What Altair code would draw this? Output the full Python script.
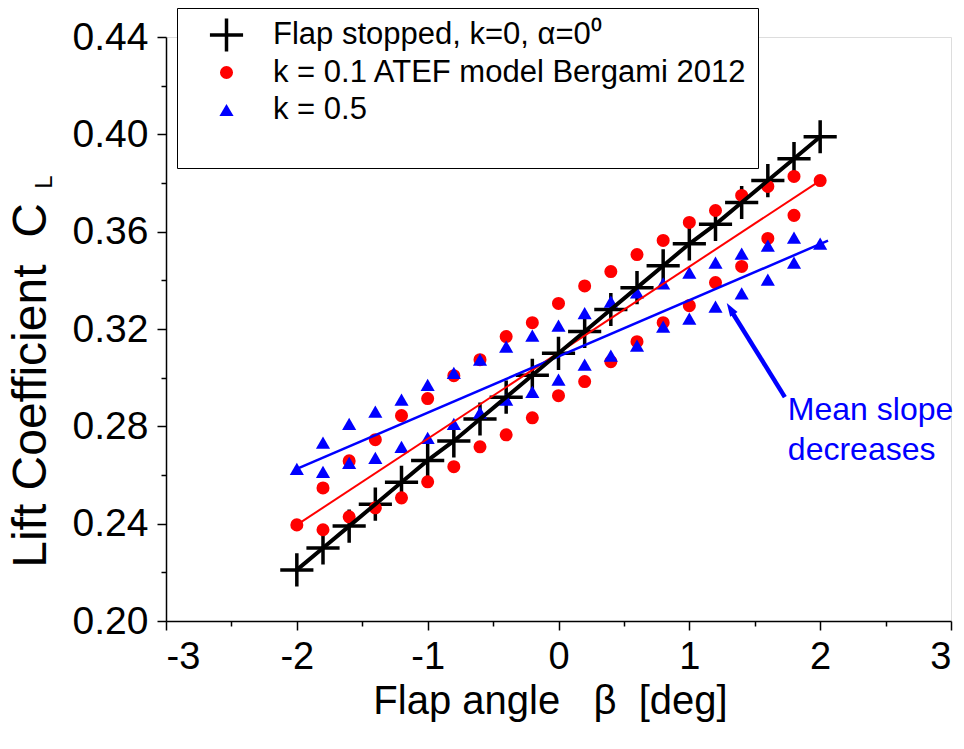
import altair as alt
import pandas as pd

# ---------------- data ----------------
beta = [-2.0, -1.8, -1.6, -1.4, -1.2, -1.0, -0.8, -0.6, -0.4, -0.2, 0.0,
        0.2, 0.4, 0.6, 0.8, 1.0, 1.2, 1.4, 1.6, 1.8, 2.0]
beta_inner = beta[1:-1]

cl_stopped = [0.221, 0.230, 0.239, 0.248, 0.257, 0.266, 0.274, 0.283, 0.292, 0.301, 0.310,
              0.319, 0.328, 0.337, 0.346, 0.355, 0.363, 0.372, 0.381, 0.390, 0.399]

cl_k01_upper = [0.2395, 0.2547, 0.2658, 0.2745, 0.2844, 0.2914, 0.3008, 0.3074, 0.3169, 0.3226, 0.3305,
                0.3377, 0.3436, 0.3506, 0.3564, 0.3638, 0.3687, 0.3749, 0.3786, 0.3827, 0.3810]
cl_k01_lower = [0.2375, 0.2428, 0.2465, 0.2506, 0.2572, 0.2634, 0.2716, 0.2765, 0.2835, 0.2926,
                0.2984, 0.3066, 0.3148, 0.3226, 0.3296, 0.3391, 0.3457, 0.3572, 0.3667]

cl_k05_upper = [0.2625, 0.2733, 0.2810, 0.2860, 0.2910, 0.2970, 0.3020, 0.3074, 0.3128, 0.3173, 0.3214,
                0.3265, 0.3313, 0.3350, 0.3387, 0.3432, 0.3473, 0.3510, 0.3543, 0.3576, 0.3551]
cl_k05_lower = [0.2613, 0.2650, 0.2670, 0.2716, 0.2753, 0.2810, 0.2856, 0.2910, 0.2942, 0.2992,
                0.3054, 0.3091, 0.3132, 0.3210, 0.3243, 0.3292, 0.3346, 0.3403, 0.3473]

# mean-slope lines (end points)
fit_k01_x = [-2.0, 2.0]
fit_k01_y = [0.2395, 0.3810]
fit_k05_x = [-2.0, 2.06]
fit_k05_y = [0.2625, 0.3563]

# annotation arrow (tail -> tip) and text
arrow_x = [1.73, 1.326]
arrow_y = [0.292, 0.327]
arrow_tip_x = [1.286]
arrow_tip_y = [0.3307]
note_lines = ["Mean slope", "decreases"]
note_x = [1.753, 1.753]
note_y = [0.2867, 0.2703]

lab_stop = "Flap stopped, k=0, α=0\u2070"
lab_k01 = "k = 0.1 ATEF model Bergami 2012"
lab_k05 = "k = 0.5"
series = [lab_stop, lab_k01, lab_k05]

x_major = [-3, -2, -1, 0, 1, 2, 3]
x_minor = [-2.5, -1.5, -0.5, 0.5, 1.5, 2.5]
y_major = [0.20, 0.24, 0.28, 0.32, 0.36, 0.40, 0.44]
y_minor = [0.22, 0.26, 0.30, 0.34, 0.38, 0.42]

# ---------------- tables ----------------
pts = pd.concat([
    pd.DataFrame({"beta": beta, "cl": cl_stopped, "series": lab_stop}),
    pd.DataFrame({"beta": beta, "cl": cl_k01_upper, "series": lab_k01}),
    pd.DataFrame({"beta": beta_inner, "cl": cl_k01_lower, "series": lab_k01}),
    pd.DataFrame({"beta": beta, "cl": cl_k05_upper, "series": lab_k05}),
    pd.DataFrame({"beta": beta_inner, "cl": cl_k05_lower, "series": lab_k05}),
], ignore_index=True)
stop_df = pd.DataFrame({"beta": beta, "cl": cl_stopped})
fit01 = pd.DataFrame({"beta": fit_k01_x, "cl": fit_k01_y})
fit05 = pd.DataFrame({"beta": fit_k05_x, "cl": fit_k05_y})
arrow_df = pd.DataFrame({"beta": arrow_x, "cl": arrow_y})
tip_df = pd.DataFrame({"beta": arrow_tip_x, "cl": arrow_tip_y})
note_df = pd.DataFrame({"beta": note_x, "cl": note_y, "t": note_lines})

FONT = "Liberation Sans"
xs = alt.Scale(domain=[-3, 3], nice=False, zero=False)
ys = alt.Scale(domain=[0.20, 0.44], nice=False, zero=False)


def X(axis=None):
    return alt.X("beta:Q", scale=xs, axis=axis)


def Y(axis=None):
    return alt.Y("cl:Q", scale=ys, axis=axis)


# minor ticks layer (invisible points, own axes)
minor = alt.Chart(stop_df).mark_point(opacity=0).encode(
    x=X(alt.Axis(orient="bottom", values=x_minor, labels=False, domain=False,
                 grid=False, ticks=True, tickSize=5, tickWidth=1.5,
                 tickColor="black", title=None)),
    y=Y(alt.Axis(orient="left", values=y_minor, labels=False, domain=False,
                 grid=False, ticks=True, tickSize=5, tickWidth=1.5,
                 tickColor="black", title=None)),
)

x_axis = alt.Axis(orient="bottom", values=x_major, labelExpr="datum.value", grid=False,
                  tickSize=9, tickWidth=1.5, tickColor="black", domainColor="black", domainWidth=1.5,
                  labelFont=FONT, labelFontSize=38, labelColor="black", labelPadding=8,
                  title="Flap angle\u00a0\u00a0\u00a0β\u00a0\u00a0[deg]", titleFont=FONT,
                  titleFontSize=40, titleFontWeight="normal", titleColor="black",
                  titleX=384, titleY=92, titleBaseline="alphabetic", titleAlign="center")
y_axis = alt.Axis(orient="left", values=y_major, labelExpr="format(datum.value, '.2f')", grid=False,
                  tickSize=9, tickWidth=1.5, tickColor="black", domainColor="black", domainWidth=1.5,
                  labelFont=FONT, labelFontSize=39, labelColor="black", labelPadding=9,
                  title="Lift Coefficient\u00a0\u00a0C", titleFont=FONT, titleFontSize=48,
                  titleFontWeight="normal", titleColor="black", titleAngle=270,
                  titleX=-121, titleY=348, titleBaseline="alphabetic", titleAlign="center")

leg = alt.Legend(orient="none", legendX=11, legendY=-29, title="\u00a0", titleOrient="bottom",
                 titleFontSize=20, titlePadding=11, strokeColor="black", fillColor="white",
                 padding=10, labelFont=FONT, labelFontSize=31, labelColor="black", labelLimit=2000,
                 labelOffset=28, symbolOffset=21, rowPadding=3.5, clipHeight=34)

sdom = dict(domain=series)
points = alt.Chart(pts).mark_point(opacity=1, filled=True).encode(
    x=X(x_axis),
    y=Y(y_axis),
    shape=alt.Shape("series:N", scale=alt.Scale(range=["M-1,0L1,0M0,-1L0,1", "circle", "triangle-up"], **sdom), legend=leg),
    fill=alt.Fill("series:N", scale=alt.Scale(range=["black", "#ff0000", "#0000ff"], **sdom), legend=leg),
    stroke=alt.Stroke("series:N", scale=alt.Scale(range=["black", "#ff0000", "#0000ff"], **sdom), legend=leg),
    size=alt.Size("series:N", scale=alt.Scale(type="ordinal", range=[1100, 170, 200], **sdom), legend=leg),
    strokeWidth=alt.StrokeWidth("series:N", scale=alt.Scale(type="ordinal", range=[3.5, 0, 0], **sdom), legend=leg),
)

black_line = alt.Chart(stop_df).mark_line(color="black", strokeWidth=4).encode(x=X(), y=Y())
red_line = alt.Chart(fit01).mark_line(color="#ff0000", strokeWidth=2).encode(x=X(), y=Y())
blue_line = alt.Chart(fit05).mark_line(color="#0000ff", strokeWidth=2.5).encode(x=X(), y=Y())
arrow_line = alt.Chart(arrow_df).mark_line(color="#0000ff", strokeWidth=4.5).encode(x=X(), y=Y())
arrow_head = alt.Chart(tip_df).mark_point(shape="M0,0L0.55,1.7L-0.55,1.7Z", filled=True, opacity=1,
                                          color="#0000ff", size=250, angle=328).encode(x=X(), y=Y())
note = alt.Chart(note_df).mark_text(align="left", baseline="middle", font=FONT, fontSize=32,
                                    color="#0000ff").encode(x=X(), y=Y(), text="t:N")
sub_l = alt.Chart(pd.DataFrame({"t": ["L"]})).mark_text(font=FONT, fontSize=24, angle=270,
                                                       baseline="alphabetic", align="center",
                                                       color="black").encode(
    x=alt.value(-114), y=alt.value(145), text="t:N")

chart = alt.layer(minor, points, red_line, blue_line, black_line, arrow_line, arrow_head, note, sub_l).resolve_axis(
    x="independent", y="independent"
).properties(
    width=785, height=584,
    autosize=alt.AutoSizeParams(type="none"),
    padding={"left": 166, "top": 37, "right": 13, "bottom": 128},
).configure_view(stroke=None).configure(background="white")

chart.save("out.html", embed_options={"renderer": "svg", "actions": False})
